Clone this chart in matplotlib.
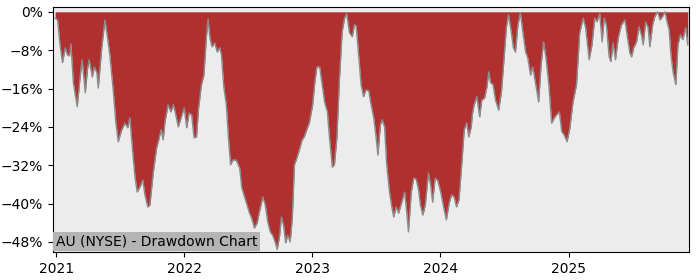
#!/usr/bin/env python3

import matplotlib
matplotlib.use('Agg')

import matplotlib.pyplot as plt
import matplotlib.dates as mdates
import matplotlib.ticker as mticker
import numpy as np
import pandas as pd


TITLE = "AU (NYSE) - Drawdown Chart"

dates = [
    "2020-12-29", "2021-01-05", "2021-01-12", "2021-01-19", "2021-01-27",
    "2021-02-02", "2021-02-08", "2021-02-12", "2021-02-19", "2021-03-02",
    "2021-03-10", "2021-03-16", "2021-03-25", "2021-03-31", "2021-04-05",
    "2021-04-14", "2021-04-20", "2021-04-27", "2021-05-01", "2021-05-11",
    "2021-05-20", "2021-05-27", "2021-06-03", "2021-06-13", "2021-06-20",
    "2021-06-27", "2021-07-07", "2021-07-16", "2021-07-24", "2021-07-30",
    "2021-08-07", "2021-08-14", "2021-08-20", "2021-08-28", "2021-09-05",
    "2021-09-11", "2021-09-19", "2021-09-25", "2021-10-05", "2021-10-14",
    "2021-10-19", "2021-10-27", "2021-11-02", "2021-11-07", "2021-11-16",
    "2021-11-24", "2021-12-01", "2021-12-08", "2021-12-15", "2021-12-23",
    "2022-01-01", "2022-01-08", "2022-01-15", "2022-01-22", "2022-01-29",
    "2022-02-05", "2022-02-11", "2022-02-19", "2022-02-26", "2022-03-05",
    "2022-03-10", "2022-03-15", "2022-03-21", "2022-03-29", "2022-04-05",
    "2022-04-12", "2022-04-17", "2022-04-24", "2022-05-01", "2022-05-07",
    "2022-05-13", "2022-05-20", "2022-05-29", "2022-06-08", "2022-06-14",
    "2022-06-22", "2022-06-29", "2022-07-06", "2022-07-12", "2022-07-20",
    "2022-07-28", "2022-08-03", "2022-08-13", "2022-08-20", "2022-08-27",
    "2022-09-03", "2022-09-10", "2022-09-17", "2022-09-23", "2022-09-30",
    "2022-10-05", "2022-10-11", "2022-10-17", "2022-10-23", "2022-10-30",
    "2022-11-05", "2022-11-11", "2022-11-18", "2022-11-25", "2022-12-03",
    "2022-12-09", "2022-12-16", "2022-12-24", "2023-01-02", "2023-01-08",
    "2023-01-14", "2023-01-22", "2023-01-29", "2023-02-05", "2023-02-13",
    "2023-02-19", "2023-02-27", "2023-03-05", "2023-03-12", "2023-03-19",
    "2023-03-27", "2023-04-03", "2023-04-09", "2023-04-17", "2023-04-25",
    "2023-05-01", "2023-05-06", "2023-05-13", "2023-05-20", "2023-05-27",
    "2023-06-03", "2023-06-11", "2023-06-16", "2023-06-25", "2023-07-02",
    "2023-07-07", "2023-07-14", "2023-07-19", "2023-07-26", "2023-08-01",
    "2023-08-09", "2023-08-16", "2023-08-21", "2023-08-28", "2023-09-04",
    "2023-09-13", "2023-09-21", "2023-09-26", "2023-10-02", "2023-10-10",
    "2023-10-17", "2023-10-24", "2023-10-31", "2023-11-05", "2023-11-12",
    "2023-11-19", "2023-11-28", "2023-12-04", "2023-12-10", "2023-12-17",
    "2023-12-24", "2024-01-02", "2024-01-09", "2024-01-18", "2024-01-26",
    "2024-02-02", "2024-02-09", "2024-02-16", "2024-02-23", "2024-03-01",
    "2024-03-09", "2024-03-16", "2024-03-22", "2024-03-29", "2024-04-01",
    "2024-04-06", "2024-04-14", "2024-04-22", "2024-04-28", "2024-05-06",
    "2024-05-12", "2024-05-18", "2024-05-23", "2024-05-30", "2024-06-06",
    "2024-06-15", "2024-06-23", "2024-06-29", "2024-07-07", "2024-07-13",
    "2024-07-21", "2024-07-27", "2024-08-02", "2024-08-09", "2024-08-16",
    "2024-08-23", "2024-08-31", "2024-09-06", "2024-09-14", "2024-09-20",
    "2024-09-28", "2024-10-07", "2024-10-14", "2024-10-21", "2024-10-28",
    "2024-11-05", "2024-11-13", "2024-11-21", "2024-11-27", "2024-12-05",
    "2024-12-12", "2024-12-19", "2024-12-27", "2025-01-04", "2025-01-13",
    "2025-01-23", "2025-02-01", "2025-02-11", "2025-02-18", "2025-02-28",
    "2025-03-08", "2025-03-16", "2025-03-22", "2025-03-30", "2025-04-06",
    "2025-04-12", "2025-04-18", "2025-04-26", "2025-05-01", "2025-05-07",
    "2025-05-14", "2025-05-22", "2025-05-31", "2025-06-10", "2025-06-16",
    "2025-06-24", "2025-06-29", "2025-07-05", "2025-07-13", "2025-07-20",
    "2025-07-27", "2025-08-01", "2025-08-08", "2025-08-15", "2025-08-20",
    "2025-08-28", "2025-09-03", "2025-09-11", "2025-09-18", "2025-09-25",
    "2025-10-02", "2025-10-08", "2025-10-14", "2025-10-19", "2025-10-25",
    "2025-11-02", "2025-11-08", "2025-11-15", "2025-11-22", "2025-11-30",
    "2025-12-06",
]

drawdown = [
    -1.3, -1.7, -6.9, -10.6, -7.5,
    -9.0, -9.2, -6.7, -14.8, -19.8,
    -13.8, -10.0, -16.9, -12.1, -10.0,
    -13.6, -11.5, -12.7, -15.9, -7.5,
    -1.7, -5.2, -9.0, -16.7, -23.0,
    -27.1, -24.6, -23.2, -24.2, -22.1,
    -29.2, -34.7, -37.6, -36.5, -35.1,
    -38.2, -40.7, -40.3, -33.4, -28.5,
    -27.1, -24.6, -26.7, -23.0, -19.4,
    -20.9, -19.4, -21.5, -24.0, -22.1,
    -20.0, -24.2, -21.1, -21.5, -26.3,
    -26.1, -20.0, -15.2, -13.2, -5.4,
    -1.5, -5.4, -7.3, -6.5, -8.4,
    -7.5, -9.0, -15.9, -19.4, -26.3,
    -31.9, -30.9, -30.9, -32.6, -36.7,
    -38.6, -40.3, -42.0, -43.0, -45.1,
    -44.0, -41.8, -38.6, -40.3, -43.8,
    -45.9, -46.6, -48.0, -49.6, -46.6,
    -42.8, -44.5, -48.2, -46.6, -48.0,
    -43.0, -31.9, -30.5, -28.8, -26.7,
    -26.1, -24.6, -23.0, -19.4, -14.8,
    -11.5, -11.5, -15.2, -18.8, -20.9,
    -26.3, -32.4, -31.9, -26.3, -14.6,
    -4.2, -1.3, -0.4, -4.4, -5.2,
    -2.7, -2.9, -9.0, -15.2, -17.7,
    -16.3, -16.5, -18.8, -22.1, -26.3,
    -29.9, -23.6, -22.5, -24.0, -31.9,
    -37.6, -40.9, -42.8, -40.7, -42.0,
    -39.7, -37.6, -40.9, -45.9, -37.6,
    -34.7, -34.9, -37.2, -40.3, -42.4,
    -40.3, -33.6, -36.1, -39.7, -34.7,
    -35.1, -37.6, -40.3, -43.4, -39.9,
    -38.2, -38.6, -40.7, -39.2, -32.6,
    -24.6, -23.2, -26.1, -24.0, -21.5,
    -19.4, -17.7, -21.9, -18.4, -18.0,
    -15.9, -12.5, -14.8, -15.2, -18.4,
    -20.5, -16.7, -11.1, -3.3, -0.6,
    -4.2, -7.5, -8.4, -2.7, -0.2,
    -4.2, -8.4, -9.6, -13.2, -11.5,
    -14.8, -18.8, -11.1, -6.3, -9.6,
    -15.2, -23.2, -22.1, -21.5, -20.9,
    -25.0, -25.7, -27.1, -24.2, -18.8,
    -15.2, -4.4, -1.3, -3.3, -10.0,
    -6.9, -1.3, -2.1, -0.4, -6.3,
    -1.3, -2.7, -9.4, -10.4, -6.5,
    -10.0, -5.4, -2.7, -1.7, -4.8,
    -8.6, -9.4, -7.5, -6.3, -3.1,
    -4.8, -6.9, -2.1, -3.3, -7.3,
    -2.7, -1.0, 0.0, -1.7, -1.0,
    0.0, -2.1, -3.8, -9.0, -12.5,
    -15.2, -6.9, -4.8, -5.8, -3.3,
    -6.9,
]

y_ticks = [0, -8, -16, -24, -32, -40, -48]
x_ticks = ["2021-01-01", "2022-01-01", "2023-01-01", "2024-01-01", "2025-01-01"]


def main():
    xs = pd.to_datetime(dates)
    ys = np.array(drawdown)

    fig = plt.figure(figsize=(7, 2.8), dpi=100)
    ax = fig.add_axes([0.0757, 0.1, 0.9083, 0.875])
    ax.set_facecolor('#ececec')

    ax.fill_between(xs, ys, 0, color='#b03030', linewidth=0, zorder=2)
    ax.plot(xs, ys, color='#8c8c8c', linewidth=1.0, zorder=3)

    ax.set_ylim(-50.1, 1.0)
    ax.set_xlim(pd.Timestamp("2020-12-23"), pd.Timestamp("2025-12-09"))

    ax.set_yticks(y_ticks)
    ax.yaxis.set_major_formatter(mticker.PercentFormatter(xmax=100, decimals=0))
    ax.set_xticks(pd.to_datetime(x_ticks))
    ax.xaxis.set_major_formatter(mdates.DateFormatter('%Y'))
    ax.tick_params(labelsize=10)

    ax.text(0.004, 0.015, TITLE, transform=ax.transAxes,
            fontsize=10, ha='left', va='bottom', zorder=5,
            bbox=dict(facecolor='#b4b4b4', edgecolor='none', pad=2))

    fig.savefig('out.png', dpi=100)
    plt.close(fig)


if __name__ == "__main__":
    main()
